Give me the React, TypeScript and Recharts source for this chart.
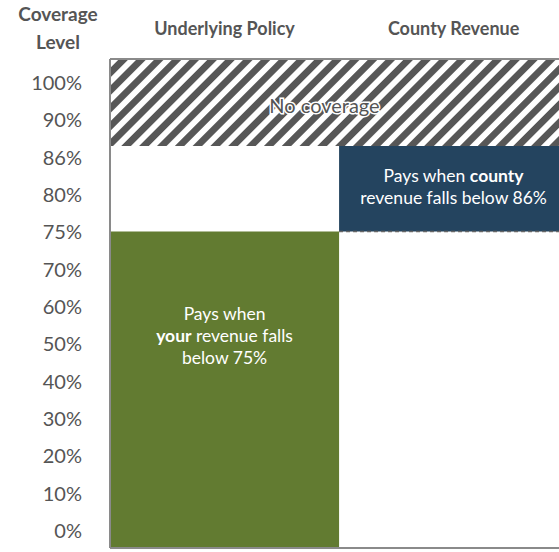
import {
  ComposedChart,
  XAxis,
  YAxis,
  ReferenceArea,
  ReferenceLine,
} from "recharts";

// coverage levels, drawn evenly spaced (index scale)
const levelLabels = ["0%", "10%", "20%", "30%", "40%", "50%", "60%", "70%", "75%", "80%", "86%", "90%", "100%"];
const levelIndex = levelLabels.map((_, i) => i);
const columns = ["Underlying Policy", "County Revenue"];

// band edges, in level-index units
const axisFloor = -0.48;
const axisTop = 12.62;
const policyTrigger = 8; // 75%
const countyTrigger = 10.29; // top of county band, start of "no coverage"
const visibleRight = 1.96; // chart is cropped on the right

const columnRows = columns.map((name, i) => ({ name, pos: i + 0.5 }));

const FONT = "'Source Sans Pro', Lato, sans-serif";
const GREY = "#555555";

function HeaderTick(props: any) {
  const { x, payload } = props;
  return (
    <text
      x={x}
      y={28}
      textAnchor="middle"
      dominantBaseline="central"
      fontFamily={FONT}
      fontWeight={700}
      fontSize={18}
      fill={GREY}
    >
      {columns[Math.floor(payload.value)]}
    </text>
  );
}

function LevelTick(props: any) {
  const { x, y, payload } = props;
  return (
    <text
      x={x}
      y={y}
      textAnchor="end"
      dominantBaseline="central"
      fontFamily={FONT}
      fontSize={20}
      fill={GREY}
    >
      {levelLabels[payload.value]}
    </text>
  );
}

function PolicyNote(props: any) {
  const { x, y, width } = props.viewBox;
  const cx = x + width / 2;
  return (
    <text textAnchor="middle" fontFamily={FONT} fontSize={17.5} fill="#ffffff">
      <tspan x={cx} y={y + 89}>Pays when</tspan>
      <tspan x={cx} y={y + 111}>
        <tspan fontWeight={700}>your</tspan> revenue falls
      </tspan>
      <tspan x={cx} y={y + 133}>below 75%</tspan>
    </text>
  );
}

function CountyNote(props: any) {
  const { x, y } = props.viewBox;
  const cx = x + 229 / 2;
  return (
    <text textAnchor="middle" fontFamily={FONT} fontSize={17.5} fill="#ffffff">
      <tspan x={cx} y={y + 36}>
        Pays when <tspan fontWeight={700}>county</tspan>
      </tspan>
      <tspan x={cx} y={y + 58}>revenue falls below 86%</tspan>
    </text>
  );
}

function NoCoverageNote(props: any) {
  const { x, y, width, height } = props.viewBox;
  return (
    <text
      x={x + width / 2 - 10}
      y={y + height / 2 + 3}
      textAnchor="middle"
      dominantBaseline="central"
      fontFamily={FONT}
      fontSize={20}
      fill={GREY}
      stroke="#ffffff"
      strokeWidth={3}
      paintOrder="stroke"
    >
      No coverage
    </text>
  );
}

export default function App() {
  return (
    <div style={{ position: "absolute", left: 0, top: 0, background: "#fff" }}>
      <svg width={0} height={0} style={{ position: "absolute" }}>
        <defs>
          <pattern
            id="hatch"
            patternUnits="userSpaceOnUse"
            width={12.6}
            height={12.6}
            patternTransform="rotate(45)"
          >
            <rect width={12.6} height={12.6} fill="#ffffff" />
            <rect width={6.8} height={12.6} fill="#575757" />
          </pattern>
        </defs>
      </svg>
      <div
        style={{
          position: "absolute",
          left: 0,
          top: 0,
          width: 110,
          textAlign: "center",
          fontFamily: FONT,
          fontWeight: 700,
          fontSize: 19,
          lineHeight: "28px",
          color: GREY,
        }}
      >
        <div style={{ paddingLeft: 6 }}>Coverage</div>
        <div style={{ paddingLeft: 6 }}>Level</div>
      </div>
      <ComposedChart
        width={559}
        height={552}
        data={columnRows}
        margin={{ top: 29, right: 0, bottom: 4, left: 0 }}
      >
        <XAxis
          xAxisId="col"
          dataKey="pos"
          type="number"
          orientation="top"
          domain={[0, visibleRight]}
          ticks={columnRows.map((c) => c.pos)}
          allowDataOverflow
          height={30}
          tickLine={false}
          axisLine={false}
          tick={<HeaderTick />}
        />
        <YAxis
          yAxisId="lvl"
          type="number"
          domain={[axisFloor, axisTop]}
          ticks={levelIndex}
          allowDataOverflow
          width={110}
          tickLine={false}
          tickSize={0}
          tickMargin={28}
          axisLine={{ stroke: "#8a8a8a", strokeWidth: 2 }}
          tick={<LevelTick />}
        />
        <ReferenceArea
          xAxisId="col"
          yAxisId="lvl"
          x1={0}
          x2={1}
          y1={axisFloor}
          y2={policyTrigger}
          fill="#627b31"
          fillOpacity={1}
          label={(p: any) => <PolicyNote {...p} />}
        />
        <ReferenceArea
          xAxisId="col"
          yAxisId="lvl"
          x1={1}
          x2={visibleRight}
          y1={policyTrigger}
          y2={countyTrigger}
          fill="#24445f"
          fillOpacity={1}
          label={(p: any) => <CountyNote {...p} />}
        />
        <ReferenceArea
          xAxisId="col"
          yAxisId="lvl"
          x1={0}
          x2={visibleRight}
          y1={countyTrigger}
          y2={axisTop}
          fill="url(#hatch)"
          fillOpacity={1}
          label={(p: any) => <NoCoverageNote {...p} />}
        />
        <ReferenceLine
          xAxisId="col"
          yAxisId="lvl"
          segment={[
            { x: 1, y: policyTrigger },
            { x: visibleRight, y: policyTrigger },
          ]}
          stroke="#666666"
          strokeDasharray="4 3"
          strokeWidth={1.5}
        />
        <ReferenceLine
          xAxisId="col"
          yAxisId="lvl"
          y={axisTop}
          stroke="#8a8a8a"
          strokeWidth={2}
        />
        <ReferenceLine
          xAxisId="col"
          yAxisId="lvl"
          y={axisFloor}
          stroke="#8a8a8a"
          strokeWidth={2}
        />
      </ComposedChart>
    </div>
  );
}
